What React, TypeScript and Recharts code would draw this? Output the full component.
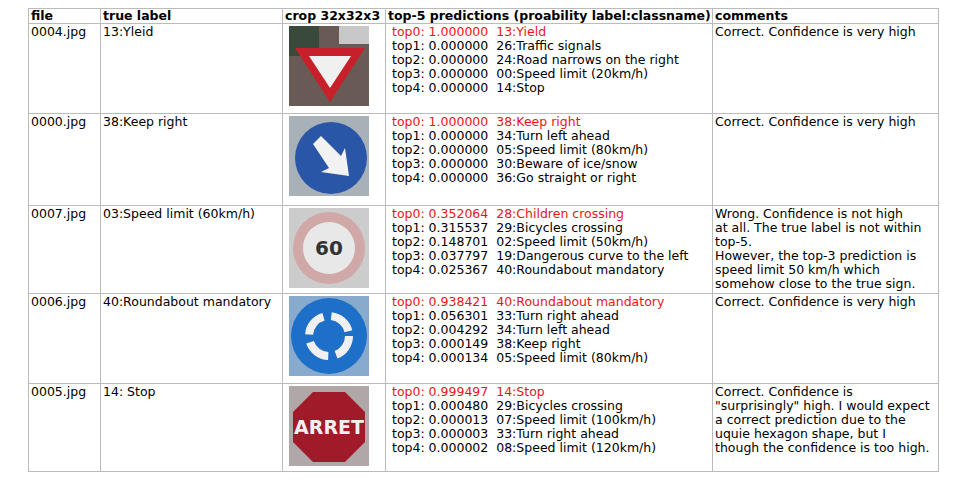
import React from 'react';
import { Surface } from 'recharts';

const files = ['0004.jpg', '0000.jpg', '0007.jpg', '0006.jpg', '0005.jpg'];
const trueLabels = ['13:Yleid', '38:Keep right', '03:Speed limit (60km/h)', '40:Roundabout mandatory', '14: Stop'];
const probs = [
  ['1.000000', '0.000000', '0.000000', '0.000000', '0.000000'],
  ['1.000000', '0.000000', '0.000000', '0.000000', '0.000000'],
  ['0.352064', '0.315537', '0.148701', '0.037797', '0.025367'],
  ['0.938421', '0.056301', '0.004292', '0.000149', '0.000134'],
  ['0.999497', '0.000480', '0.000013', '0.000003', '0.000002'],
];
const classes = [
  ['13:Yield', '26:Traffic signals', '24:Road narrows on the right', '00:Speed limit (20km/h)', '14:Stop'],
  ['38:Keep right', '34:Turn left ahead', '05:Speed limit (80km/h)', '30:Beware of ice/snow', '36:Go straight or right'],
  ['28:Children crossing', '29:Bicycles crossing', '02:Speed limit (50km/h)', '19:Dangerous curve to the left', '40:Roundabout mandatory'],
  ['40:Roundabout mandatory', '33:Turn right ahead', '34:Turn left ahead', '38:Keep right', '05:Speed limit (80km/h)'],
  ['14:Stop', '29:Bicycles crossing', '07:Speed limit (100km/h)', '33:Turn right ahead', '08:Speed limit (120km/h)'],
];
const comments = [
  ['Correct. Confidence is very high'],
  ['Correct. Confidence is very high'],
  ['Wrong. Confidence is not high', 'at all. The true label is not within', 'top-5.', 'However, the top-3 prediction is', 'speed limit 50 km/h which', 'somehow close to the true sign.'],
  ['Correct. Confidence is very high'],
  ['Correct. Confidence is', '"surprisingly" high. I would expect', 'a correct prediction due to the', 'uquie hexagon shape, but I', 'though the confidence is too high.'],
];
const rowHeights = [90, 92, 88, 90, 88];

function Crop({ i }: { i: number }) {
  return (
    <Surface width={80} height={80} viewBox={{ x: 0, y: 0, width: 80, height: 80 }}>
      {i === 0 && (
        <g>
          <rect width={80} height={80} fill="#6a5a55" />
          <rect x={0} y={0} width={30} height={30} fill="#3a4a3a" />
          <rect x={50} y={0} width={30} height={18} fill="#c8c8c8" />
          <polygon points="6,22 76,22 41,76" fill="#c8202a" />
          <polygon points="20,30 62,30 41,62" fill="#f0f0f0" />
        </g>
      )}
      {i === 1 && (
        <g>
          <rect width={80} height={80} fill="#a8b0b8" />
          <circle cx={42} cy={42} r={36} fill="#2a56a8" />
          <polygon points="24,28 32,20 52,40 56,32 60,60 32,56 40,52" fill="#f2f2f2" />
        </g>
      )}
      {i === 2 && (
        <g>
          <rect width={80} height={80} fill="#ccc" />
          <circle cx={40} cy={40} r={36} fill="#d0a8a8" />
          <circle cx={40} cy={40} r={26} fill="#e8e8e8" />
          <text x={40} y={47} textAnchor="middle" fontSize={20} fontWeight="bold" fill="#333">60</text>
        </g>
      )}
      {i === 3 && (
        <g>
          <rect width={80} height={80} fill="#8ac" />
          <circle cx={40} cy={40} r={38} fill="#1e6fc8" />
          <circle cx={40} cy={40} r={20} fill="none" stroke="#f0f0f0" strokeWidth={8} strokeDasharray="24 8" />
        </g>
      )}
      {i === 4 && (
        <g>
          <rect width={80} height={80} fill="#b0a8a8" />
          <polygon points="24,6 56,6 76,26 76,56 56,76 24,76 4,56 4,26" fill="#a01a2a" />
          <text x={40} y={48} textAnchor="middle" fontSize={19} fontWeight="bold" fill="#f0f0f0">ARRET</text>
        </g>
      )}
    </Surface>
  );
}

const cell: React.CSSProperties = { border: '1px solid #bbb', verticalAlign: 'top', padding: '1px 2px 0 2px', lineHeight: '14px', whiteSpace: 'nowrap' };

export default function App() {
  return (
    <div style={{ width: 941, height: 467, fontFamily: 'DejaVu Sans', fontSize: 12.5, color: '#000' }}>
      <table style={{ borderCollapse: 'collapse', marginLeft: 20, tableLayout: 'fixed', width: 910 }}>
        <colgroup>
          <col style={{ width: 72 }} />
          <col style={{ width: 182 }} />
          <col style={{ width: 103 }} />
          <col style={{ width: 327 }} />
          <col style={{ width: 226 }} />
        </colgroup>
        <thead>
          <tr style={{ height: 14 }}>
            {['file', 'true label', 'crop 32x32x3', 'top-5 predictions (proability label:classname)', 'comments'].map(h => (
              <th key={h} style={{ ...cell, padding: '0 2px', textAlign: 'left', fontWeight: 'bold', overflow: 'hidden' }}>{h}</th>
            ))}
          </tr>
        </thead>
        <tbody>
          {files.map((f, i) => (
            <tr key={f} style={{ height: rowHeights[i] }}>
              <td style={cell}>{f}</td>
              <td style={cell}>{trueLabels[i]}</td>
              <td style={{ ...cell, padding: '2px 0 0 6px', lineHeight: 0 }}><Crop i={i} /></td>
              <td style={{ ...cell, paddingLeft: 6, whiteSpace: 'pre' }}>
                {probs[i].map((p, k) => (
                  <div key={k} style={{ color: k === 0 ? '#e8141c' : '#000' }}>{`top${k}: ${p}  ${classes[i][k]}`}</div>
                ))}
              </td>
              <td style={cell}>
                {comments[i].map((c, k) => <div key={k}>{c}</div>)}
              </td>
            </tr>
          ))}
        </tbody>
      </table>
    </div>
  );
}
